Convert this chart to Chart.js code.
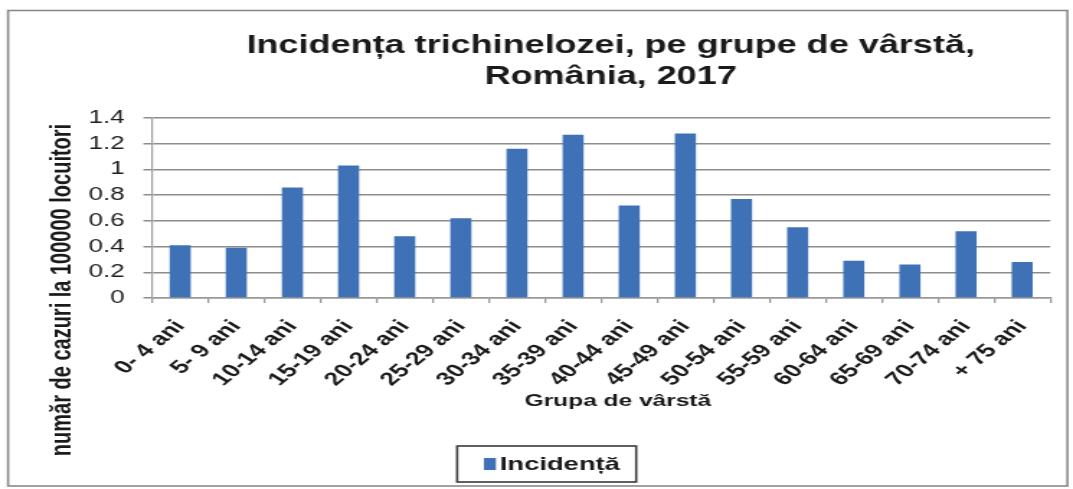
<!DOCTYPE html>
<html><head><meta charset="utf-8">
<script src="https://cdn.jsdelivr.net/npm/chart.js@4/dist/chart.umd.min.js"></script>
<style>
html,body{margin:0;padding:0;background:#fff;overflow:hidden;}
#wrap{width:1073px;height:489px;overflow:hidden;position:relative;background:#fff;}
#c{position:absolute;left:0;top:0;transform-origin:0 0;}
</style></head><body>
<div id="wrap"><canvas id="c"></canvas></div>
<script>
const categories = ['0- 4 ani','5- 9 ani','10-14 ani','15-19 ani','20-24 ani','25-29 ani','30-34 ani','35-39 ani','40-44 ani','45-49 ani','50-54 ani','55-59 ani','60-64 ani','65-69 ani','70-74 ani','+ 75 ani'];
const incidenta = [0.41,0.39,0.86,1.03,0.48,0.62,1.16,1.27,0.72,1.28,0.77,0.55,0.29,0.26,0.52,0.28];
const yTickLabels = ['0','0.2','0.4','0.6','0.8','1','1.2','1.4'];
const titleLines = ['Incidența trichinelozei, pe grupe de vârstă,','România, 2017'];
const xTitle = 'Grupa de vârstă';
const yTitle = 'număr de cazuri la 100000 locuitori';
const seriesLabel = 'Incidență';

const FONT = "'Liberation Sans', Arial, sans-serif";
const S = 1.44;
const W = Math.round(1073 / S), H = 489;
const cv = document.getElementById('c');
cv.width = W; cv.height = H;
cv.style.width = W + 'px'; cv.style.height = H + 'px';
cv.style.transform = 'scaleX(' + (1073 / W) + ')';

const BAR = '#3f71b6';
const PAD_LEFT = 13, PLOT_LEFT = 105.6, PLOT_RIGHT = 729.2, PLOT_TOP = 118, PLOT_BOTTOM = 298;

const decor = {
  id: 'decor',
  beforeDraw(chart) {
    const c = chart.ctx;
    c.save();
    c.fillStyle = '#fff';
    c.fillRect(0, 0, W, H);
    c.strokeStyle = '#8a8a8a';
    c.lineWidth = 1.6;
    c.strokeRect(5.6, 10.5, 735.5, 475.5);
    c.restore();
  },
  afterDraw(chart) {
    const c = chart.ctx;
    c.save();
    c.fillStyle = '#1a1a1a';
    c.textAlign = 'center';
    c.textBaseline = 'alphabetic';
    c.font = 'bold 25px ' + FONT;
    c.fillText(titleLines[0], 424, 53);
    c.fillText(titleLines[1], 424, 84);
    // x title
    c.font = 'bold 17px ' + FONT;
    c.textBaseline = 'middle';
    c.fillText(xTitle, 429, 401);
    // y title
    c.save();
    c.translate(43, 290);
    c.rotate(-Math.PI / 2);
    c.font = 'bold 20px ' + FONT;
    c.fillText(yTitle, 0, 0);
    c.restore();
    // legend
    const lx = 317.4, ly = 446, lw = 124.3, lh = 36;
    c.strokeStyle = '#3a3a3a';
    c.lineWidth = 1.6;
    c.strokeRect(lx, ly, lw, lh);
    c.fillStyle = chart.data.datasets[0].backgroundColor;
    c.fillRect(336, 458, 8.3, 12);
    c.fillStyle = '#1a1a1a';
    c.font = 'bold 19px ' + FONT;
    c.textAlign = 'left';
    c.textBaseline = 'middle';
    c.fillText(chart.data.datasets[0].label, 347, 465);
    c.restore();
  }
};

new Chart(cv, {
  type: 'bar',
  data: {
    labels: categories,
    datasets: [{
      label: seriesLabel,
      data: incidenta,
      backgroundColor: BAR,
      borderWidth: 0,
      barPercentage: 0.375,
      categoryPercentage: 1.0
    }]
  },
  options: {
    responsive: false,
    animation: false,
    devicePixelRatio: 1,
    events: [],
    layout: { padding: { left: PAD_LEFT, right: W - PLOT_RIGHT, top: PLOT_TOP, bottom: 0 } },
    plugins: { legend: { display: false }, title: { display: false }, tooltip: { enabled: false } },
    scales: {
      x: {
        afterFit(s) { s.height = H - PLOT_BOTTOM; },
        grid: { offset: true, drawOnChartArea: false, drawTicks: true, tickLength: 5, color: '#9a9a9a', lineWidth: 1.3 },
        border: { display: true, color: '#9a9a9a', width: 1.5 },
        ticks: {
          autoSkip: false, minRotation: 49, maxRotation: 49, padding: 13,
          color: '#1a1a1a', font: { family: FONT, size: 18.5, weight: 'bold' }
        }
      },
      y: {
        min: 0, max: 1.4,
        afterFit(s) { s.width = PLOT_LEFT - PAD_LEFT; },
        grid: { color: '#8c8c8c', lineWidth: 1.5, tickLength: 6 },
        border: { display: true, color: '#a0a0a0', width: 1.2 },
        ticks: {
          stepSize: 0.2, padding: 13, color: '#1e1e1e',
          font: { family: FONT, size: 18 },
          callback: (v, i) => yTickLabels[i]
        }
      }
    }
  },
  plugins: [decor]
});
</script>
</body></html>
